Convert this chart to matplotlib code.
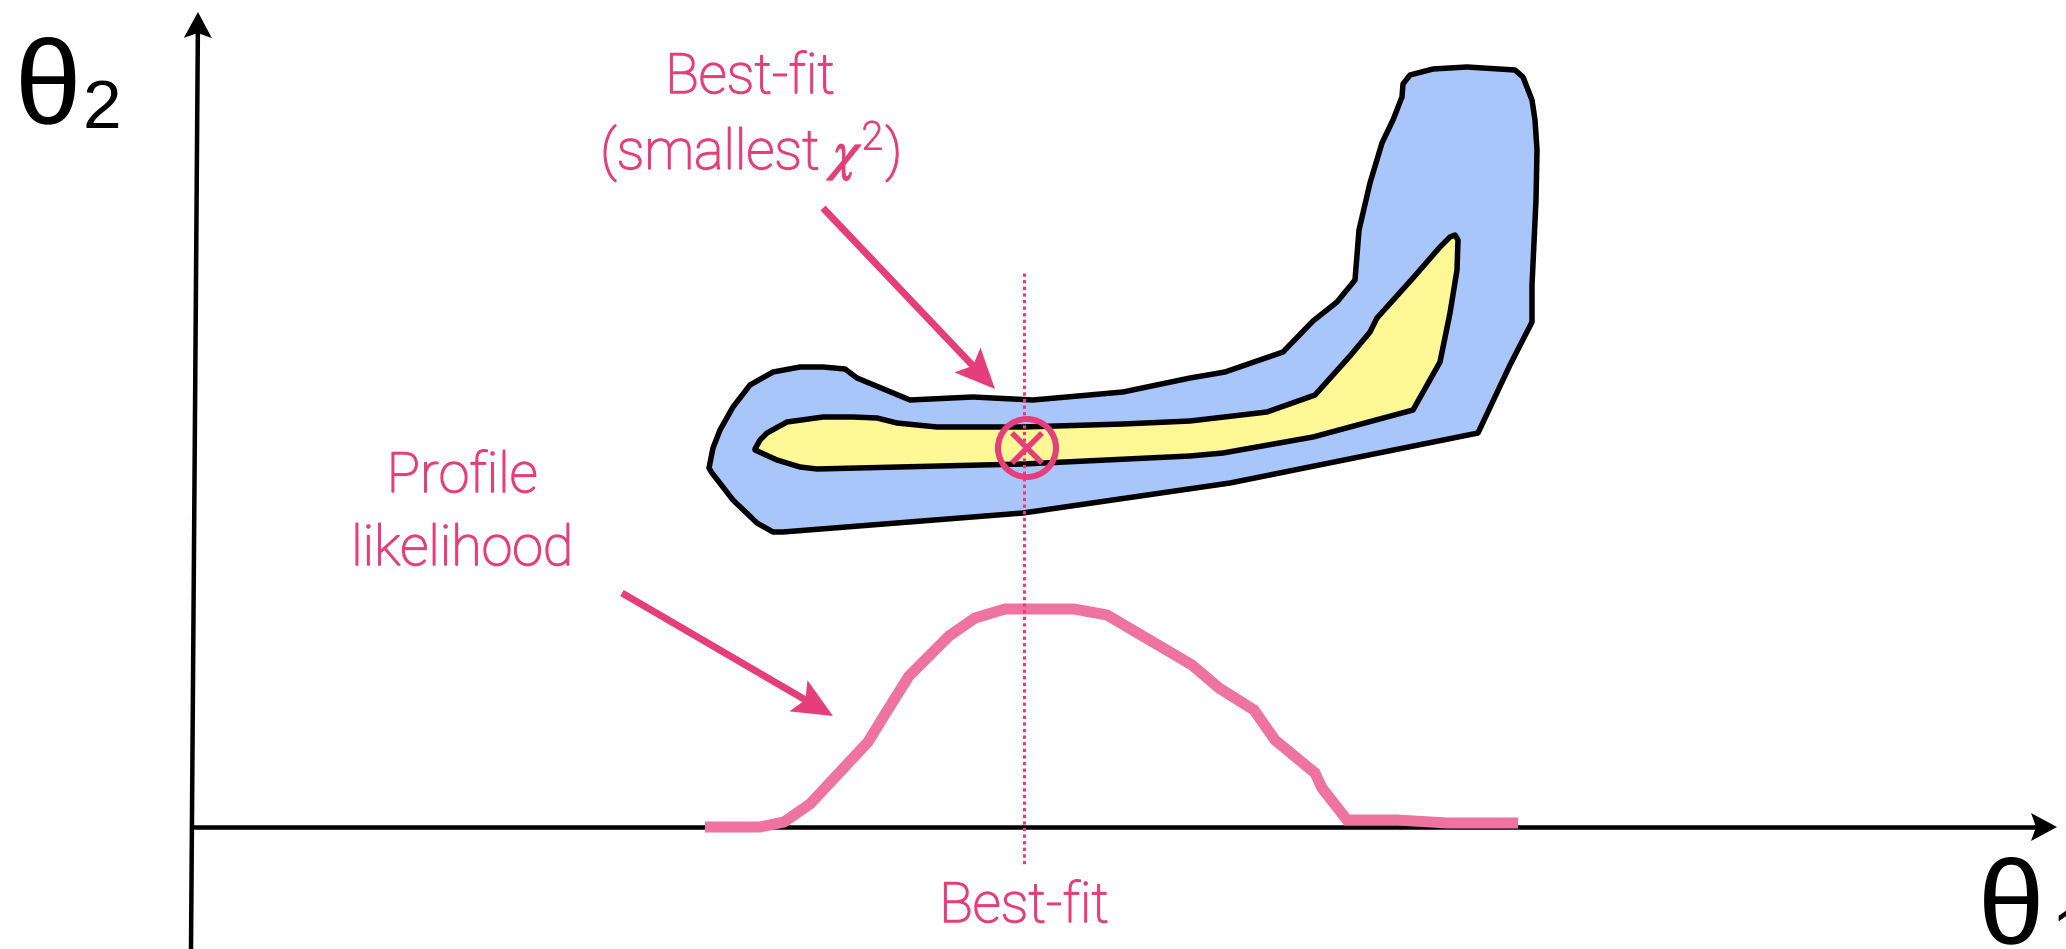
import numpy as np
import matplotlib
matplotlib.use("Agg")
import matplotlib.pyplot as plt
import matplotlib.patheffects as pe
from matplotlib.patches import Polygon, Circle

# Outer (blue) confidence region in the (theta1, theta2) plane, canvas pixels
outer_x = [709, 713, 720, 733, 750, 773, 800, 823, 845, 857, 910, 973, 1033,
           1123, 1190, 1225, 1283, 1313, 1337, 1355, 1359, 1370, 1382, 1393,
           1402, 1403, 1410, 1433, 1467, 1515, 1523, 1532, 1535, 1537, 1536,
           1532, 1532, 1510, 1478, 1230, 1023, 783, 773, 757, 733, 712]
outer_y = [468, 448, 430, 407, 385, 372, 367, 367, 369, 378, 400, 397, 400,
           392, 378, 372, 352, 321, 302, 280, 230, 183, 143, 120,
           97, 84, 75, 69, 67, 70, 77, 100, 120, 150, 200,
           285, 322, 365, 433, 483, 513, 532, 532, 523, 500, 473]

# Inner (yellow) confidence region
inner_x = [755, 760, 767, 787, 823, 853, 877, 897, 937, 1023, 1123, 1190,
           1267, 1315, 1350, 1370, 1377, 1413, 1440, 1450, 1455, 1458, 1457,
           1450, 1440, 1413, 1313, 1223, 1190, 1023, 817, 800, 777, 755]
inner_y = [449, 440, 433, 422, 417, 417, 418, 423, 427, 427, 424, 421,
           412, 395, 356, 332, 318, 278, 247, 237, 235, 240, 270,
           313, 362, 410, 437, 453, 456, 464, 469, 467, 460, 450]

# Profile likelihood along theta1
profile_x = [705, 760, 784, 810, 868, 887, 909, 949, 975, 1005, 1074, 1107,
             1192, 1219, 1254, 1275, 1315, 1322, 1347, 1397, 1447, 1518]
profile_y = [827, 827, 822, 804, 742, 711, 676, 636, 618, 609, 609, 615,
             665, 688, 710, 740, 773, 788, 820, 820, 823, 823]

# Best-fit point
best_fit_x = 1027
best_fit_y = 448

W, H = 2066, 949
DPI = 100
PX = 72 / DPI  # points per canvas pixel

PINK = "#e63e7a"
PINK_LINE = "#ee739f"
BLUE = "#a9c6fb"
YELLOW = "#fdf795"

plt.rcParams["mathtext.fontset"] = "custom"
plt.rcParams["mathtext.rm"] = "Roboto:light"
plt.rcParams["mathtext.it"] = "STIXGeneral:italic"

fig = plt.figure(figsize=(W / DPI, H / DPI), dpi=DPI)
ax = fig.add_axes([0, 0, 1, 1])
ax.set_xlim(0, W)
ax.set_ylim(H, 0)
ax.axis("off")


def arrow(x0, y0, x1, y1, color, lw_px, length, half_width, notch, z=5):
    """Straight shaft with a notched (stealth) head whose tip sits at (x1, y1)."""
    d = np.array([x1 - x0, y1 - y0], float)
    d /= np.hypot(*d)
    n = np.array([-d[1], d[0]])
    tip = np.array([x1, y1], float)
    back = tip - d * length
    inner = tip - d * (length - notch)
    ax.plot([x0, inner[0] + d[0] * 2], [y0, inner[1] + d[1] * 2], color=color,
            lw=lw_px * PX, solid_capstyle="butt", zorder=z)
    ax.add_patch(Polygon([tip, back + n * half_width, inner, back - n * half_width],
                         closed=True, facecolor=color, edgecolor="none", zorder=z))


# Coordinate axes
arrow(191, 949, 198, 12, "black", 4.5, 26, 14, 5)
arrow(191, 827, 2057, 827, "black", 4.5, 26, 14, 5)

# Confidence regions
ax.add_patch(Polygon(np.column_stack([outer_x, outer_y]), closed=True,
                     facecolor=BLUE, edgecolor="black", lw=5.5 * PX,
                     joinstyle="round", zorder=2))
ax.add_patch(Polygon(np.column_stack([inner_x, inner_y]), closed=True,
                     facecolor=YELLOW, edgecolor="black", lw=5.5 * PX,
                     joinstyle="round", zorder=3))

# Profile likelihood curve
ax.plot(profile_x, profile_y, color=PINK_LINE, lw=11 * PX,
        solid_capstyle="butt", solid_joinstyle="miter", zorder=6)

# Vertical dotted line through the best fit
ax.plot([best_fit_x - 3, best_fit_x - 3], [273, 867], color=PINK, lw=3 * PX,
        dashes=(1.1, 1.1), zorder=7)

# Best-fit marker: circled cross
ax.add_patch(Circle((best_fit_x, best_fit_y), 29, facecolor="none",
                    edgecolor=PINK, lw=6 * PX, zorder=8))
s = 15
ax.plot([best_fit_x - s, best_fit_x + s], [best_fit_y - s, best_fit_y + s],
        color=PINK, lw=5.5 * PX, solid_capstyle="butt", zorder=8)
ax.plot([best_fit_x + s, best_fit_x - s], [best_fit_y - s, best_fit_y + s],
        color=PINK, lw=5.5 * PX, solid_capstyle="butt", zorder=8)

# Annotation arrows
arrow(823, 208, 995, 389, PINK, 7, 40, 18, 8, z=9)
arrow(622, 593, 833, 716, PINK, 7, 40, 18, 8, z=9)

# Labels (light face, slightly thickened)
label_kw = dict(color=PINK, fontsize=40, family="Roboto", fontweight="light",
                ha="center", va="baseline",
                path_effects=[pe.withStroke(linewidth=1.1, foreground=PINK)])
ax.text(750, 93, "Best-fit", **label_kw)
ax.text(750, 169, r"(smallest $\chi^{\mathrm{2}}$)", **label_kw)
ax.text(462, 492, "Profile", **label_kw)
ax.text(462, 565, "likelihood", **label_kw)
ax.text(1024, 922, "Best-fit", **label_kw)

# Axis names
axis_kw = dict(color="black", family="Liberation Sans", va="baseline", ha="left")
ax.text(15, 122, "θ", fontsize=86, **axis_kw)
ax.text(83, 128, "2", fontsize=50, **axis_kw)
ax.text(1978, 942, "θ", fontsize=86, **axis_kw)
ax.text(2052, 955, "1", fontsize=50, **axis_kw)

fig.savefig("out.png", dpi=DPI, facecolor="white")
